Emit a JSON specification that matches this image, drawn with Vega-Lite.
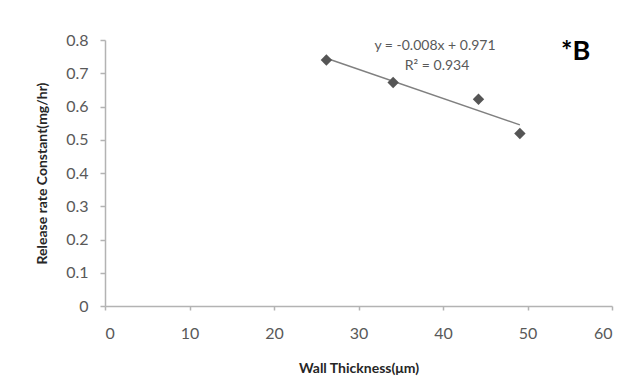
{
  "$schema": "https://vega.github.io/schema/vega-lite/v6.json",
  "width": 507,
  "height": 266,
  "autosize": {"type": "none"},
  "padding": {"left": 105, "top": 40, "right": 30, "bottom": 77},
  "background": "white",
  "config": {
    "view": {"stroke": null},
    "font": "Lato",
    "axis": {
      "grid": false,
      "domainColor": "#b3b3b3",
      "tickColor": "#b3b3b3",
      "domainWidth": 1.5,
      "tickWidth": 1.5,
      "labelFont": "Lato",
      "labelFontSize": 16,
      "labelColor": "#595959",
      "labelOverlap": false,
      "titleFont": "Lato",
      "titleFontSize": 14,
      "titleFontWeight": "bold",
      "titleColor": "#262626"
    }
  },
  "datasets": {
    "points": [
      {"thickness": 26.2, "rate": 0.74},
      {"thickness": 34.1, "rate": 0.672},
      {"thickness": 44.2, "rate": 0.622},
      {"thickness": 49.1, "rate": 0.519}
    ],
    "notes": [
      {"thickness": 39.05, "rate": 0.782, "label": "y = -0.008x + 0.971"},
      {"thickness": 39.3, "rate": 0.722, "label": "R² = 0.934"}
    ],
    "tag": [
      {"thickness": 55.7, "rate": 0.765, "label": "*B"}
    ]
  },
  "encoding": {
    "x": {
      "field": "thickness", "type": "quantitative",
      "scale": {"domain": [0, 60], "nice": false},
      "axis": {"values": [0, 10, 20, 30, 40, 50, 60], "tickSize": 4, "labelPadding": 15, "title": "Wall Thickness(μm)", "titlePadding": 20}
    },
    "y": {
      "field": "rate", "type": "quantitative",
      "scale": {"domain": [0, 0.8], "nice": false},
      "axis": {"values": [0, 0.1, 0.2, 0.3, 0.4, 0.5, 0.6, 0.7, 0.8], "format": ".1~f", "tickSize": 5, "labelPadding": 12, "title": "Release rate Constant(mg/hr)", "titlePadding": 16}
    }
  },
  "layer": [
    {
      "data": {"name": "points"},
      "transform": [{"regression": "rate", "on": "thickness"}],
      "mark": {"type": "line", "color": "#808080", "strokeWidth": 1.5}
    },
    {
      "data": {"name": "points"},
      "mark": {"type": "point", "shape": "diamond", "filled": true, "size": 130, "color": "#555555", "opacity": 1}
    },
    {
      "data": {"name": "notes"},
      "mark": {"type": "text", "fontSize": 14, "color": "#595959", "align": "center", "baseline": "middle"},
      "encoding": {"text": {"field": "label"}}
    },
    {
      "data": {"name": "tag"},
      "mark": {"type": "text", "fontSize": 27, "fontWeight": "bold", "color": "#000000", "align": "center", "baseline": "middle", "font": "Lato"},
      "encoding": {"text": {"field": "label"}}
    }
  ]
}
